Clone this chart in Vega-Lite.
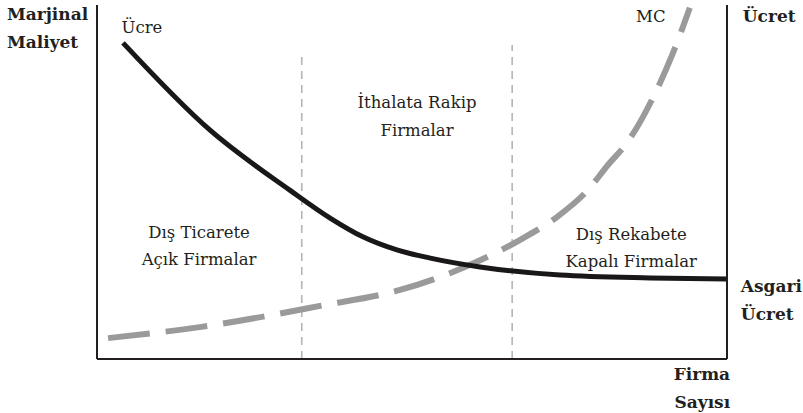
{
  "$schema": "https://vega.github.io/schema/vega-lite/v6.json",
  "width": 630,
  "height": 354,
  "autosize": {"type": "none"},
  "padding": {"left": 97, "top": 5, "right": 76, "bottom": 54},
  "background": "white",
  "config": {"view": {"stroke": null}, "font": "DejaVu Serif"},
  "datasets": {
    "frame": [
      {"x": 0, "x2": 0, "y": 0, "y2": 100},
      {"x": 100, "x2": 100, "y": 0, "y2": 100},
      {"x": 0, "x2": 100, "y": 0, "y2": 0}
    ],
    "dividers": [
      {"x": 32.5, "y": 0, "y2": 85.3},
      {"x": 65.9, "y": 0, "y2": 88.7}
    ],
    "mc": [
      {"firma": 1.75, "maliyet": 5.9},
      {"firma": 16.3, "maliyet": 9.0},
      {"firma": 35.4, "maliyet": 15.0},
      {"firma": 48.1, "maliyet": 19.5},
      {"firma": 56.5, "maliyet": 24.6},
      {"firma": 67.1, "maliyet": 33.6},
      {"firma": 73.0, "maliyet": 40.1},
      {"firma": 77.9, "maliyet": 47.7},
      {"firma": 81.1, "maliyet": 54.8},
      {"firma": 84.1, "maliyet": 61.0},
      {"firma": 88.6, "maliyet": 75.1},
      {"firma": 91.3, "maliyet": 85.9},
      {"firma": 94.1, "maliyet": 99.2}
    ],
    "ucret": [
      {"firma": 4.13, "ucret": 89.3},
      {"firma": 17.9, "ucret": 64.7},
      {"firma": 30.6, "ucret": 47.7},
      {"firma": 37.0, "ucret": 39.8},
      {"firma": 42.2, "ucret": 34.5},
      {"firma": 47.6, "ucret": 30.8},
      {"firma": 52.9, "ucret": 28.5},
      {"firma": 60.8, "ucret": 26.0},
      {"firma": 73.5, "ucret": 23.7},
      {"firma": 87.8, "ucret": 22.9},
      {"firma": 100, "ucret": 22.6}
    ],
    "labels": [
      {"x": 7.14, "y": 92.1, "text": "Ücre"},
      {"x": 87.9, "y": 95.2, "text": "MC"},
      {"x": 50.8, "y": 70.9, "text": "İthalata Rakip"},
      {"x": 50.8, "y": 63.0, "text": "Firmalar"},
      {"x": 16.2, "y": 34.2, "text": "Dış Ticarete"},
      {"x": 16.2, "y": 26.6, "text": "Açık Firmalar"},
      {"x": 84.8, "y": 33.6, "text": "Dış Rekabete"},
      {"x": 84.8, "y": 26.0, "text": "Kapalı Firmalar"}
    ],
    "boldLeft": [
      {"x": -14.3, "y": 95.8, "text": "Marjinal"},
      {"x": -14.3, "y": 87.9, "text": "Maliyet"},
      {"x": 102.5, "y": 95.2, "text": "Ücret"},
      {"x": 102.2, "y": 18.9, "text": "Asgari"},
      {"x": 102.2, "y": 11.0, "text": "Ücret"}
    ],
    "boldRight": [
      {"x": 100.5, "y": -5.9, "text": "Firma"},
      {"x": 100.5, "y": -13.8, "text": "Sayısı"}
    ]
  },
  "layer": [
    {
      "data": {"name": "dividers"},
      "mark": {"type": "rule", "color": "#b5b5b5", "strokeWidth": 1.6, "strokeDash": [8, 6]},
      "encoding": {
        "x": {"field": "x", "type": "quantitative", "scale": {"domain": [0, 100], "nice": false, "zero": false}, "axis": null},
        "y": {"field": "y", "type": "quantitative", "scale": {"domain": [0, 100], "nice": false, "zero": false}, "axis": null},
        "y2": {"field": "y2"}
      }
    },
    {
      "data": {"name": "mc"},
      "mark": {"type": "line", "color": "#9a9a9a", "strokeWidth": 6, "strokeDash": [42, 16], "interpolate": "monotone", "strokeCap": "butt"},
      "encoding": {
        "x": {"field": "firma", "type": "quantitative", "scale": {"domain": [0, 100], "nice": false, "zero": false}, "axis": null},
        "y": {"field": "maliyet", "type": "quantitative", "scale": {"domain": [0, 100], "nice": false, "zero": false}, "axis": null}
      }
    },
    {
      "data": {"name": "ucret"},
      "mark": {"type": "line", "color": "#1a1718", "strokeWidth": 5, "interpolate": "monotone", "strokeCap": "butt"},
      "encoding": {
        "x": {"field": "firma", "type": "quantitative", "scale": {"domain": [0, 100], "nice": false, "zero": false}, "axis": null},
        "y": {"field": "ucret", "type": "quantitative", "scale": {"domain": [0, 100], "nice": false, "zero": false}, "axis": null}
      }
    },
    {
      "data": {"name": "frame"},
      "mark": {"type": "rule", "color": "#231f20", "strokeWidth": 2},
      "encoding": {
        "x": {"field": "x", "type": "quantitative", "scale": {"domain": [0, 100], "nice": false, "zero": false}, "axis": null},
        "x2": {"field": "x2"},
        "y": {"field": "y", "type": "quantitative", "scale": {"domain": [0, 100], "nice": false, "zero": false}, "axis": null},
        "y2": {"field": "y2"}
      }
    },
    {
      "data": {"name": "labels"},
      "mark": {"type": "text", "font": "DejaVu Serif", "fontSize": 16.5, "color": "#231f20", "align": "center", "baseline": "alphabetic"},
      "encoding": {
        "x": {"field": "x", "type": "quantitative", "scale": {"domain": [0, 100], "nice": false, "zero": false}, "axis": null},
        "y": {"field": "y", "type": "quantitative", "scale": {"domain": [0, 100], "nice": false, "zero": false}, "axis": null},
        "text": {"field": "text"}
      }
    },
    {
      "data": {"name": "boldLeft"},
      "mark": {"type": "text", "font": "DejaVu Serif", "fontSize": 17, "fontWeight": "bold", "color": "#231f20", "align": "left", "baseline": "alphabetic"},
      "encoding": {
        "x": {"field": "x", "type": "quantitative", "scale": {"domain": [0, 100], "nice": false, "zero": false}, "axis": null},
        "y": {"field": "y", "type": "quantitative", "scale": {"domain": [0, 100], "nice": false, "zero": false}, "axis": null},
        "text": {"field": "text"}
      }
    },
    {
      "data": {"name": "boldRight"},
      "mark": {"type": "text", "font": "DejaVu Serif", "fontSize": 17, "fontWeight": "bold", "color": "#231f20", "align": "right", "baseline": "alphabetic"},
      "encoding": {
        "x": {"field": "x", "type": "quantitative", "scale": {"domain": [0, 100], "nice": false, "zero": false}, "axis": null},
        "y": {"field": "y", "type": "quantitative", "scale": {"domain": [0, 100], "nice": false, "zero": false}, "axis": null},
        "text": {"field": "text"}
      }
    }
  ]
}
